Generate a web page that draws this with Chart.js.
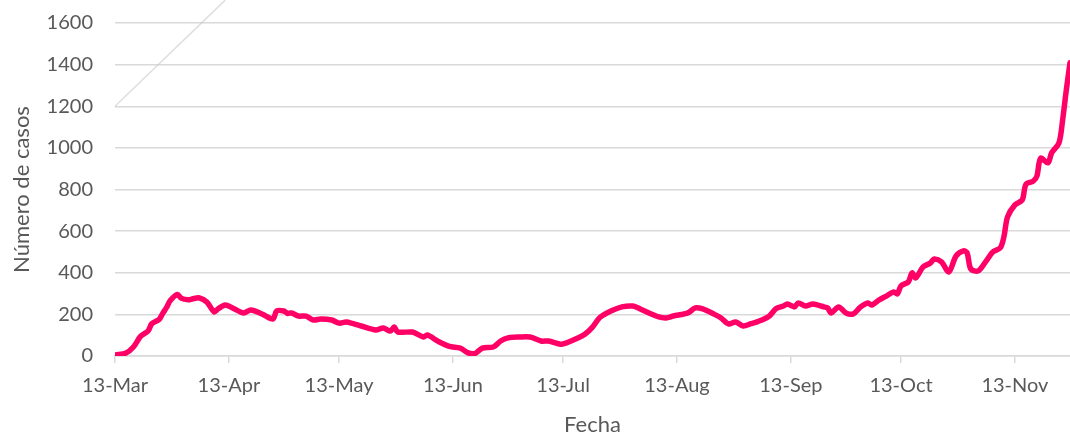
<!DOCTYPE html>
<html>
<head>
<meta charset="utf-8">
<script src="https://cdn.jsdelivr.net/npm/chart.js@4"></script>
<style>
  html, body { margin: 0; padding: 0; background: #fff; }
  #wrap { width: 1070px; height: 435px; }
</style>
</head>
<body>
<div id="wrap"><canvas id="casos"></canvas></div>
<script>
// dias desde el 13-Mar y casos diarios (media movil)
const dias = [0, 3, 5, 7, 9, 10, 12, 13, 14, 15, 17, 18, 20, 21, 23, 25, 27, 28, 30, 32,
  35, 37, 40, 43, 44, 46, 47, 48, 50, 52, 54, 56, 59, 61, 63, 67, 71, 73, 75, 76,
  77, 81, 84, 85, 88, 91, 94, 96, 98, 100, 103, 105, 107, 110, 113, 116, 118, 121, 122, 126,
  128, 130, 132, 135, 138, 141, 143, 146, 148, 150, 152, 156, 158, 160, 163, 165, 167, 169, 171, 173,
  175, 178, 180, 182, 183, 185, 186, 188, 190, 193, 194, 195, 197, 199, 201, 203, 205, 206, 208, 210,
  212, 213, 214, 216, 217, 218, 220, 222, 223, 225, 227, 229, 231, 232, 233, 235, 237, 239, 241, 242,
  243, 245, 247, 248, 250, 251, 252, 254, 255, 257, 258, 259, 260];
const casos = [5, 14, 43, 95, 120, 155, 175, 205, 232, 265, 296, 278, 270, 274, 279, 260, 212, 226, 245, 231,
  207, 221, 202, 178, 216, 216, 204, 207, 192, 192, 173, 178, 173, 158, 163, 144, 125, 135, 120, 139,
  115, 115, 91, 101, 70, 46, 38, 16, 12, 38, 43, 72, 87, 91, 91, 72, 72, 58, 58, 87,
  106, 139, 185, 216, 236, 240, 226, 202, 188, 183, 192, 207, 231, 226, 202, 183, 154, 163, 144, 154,
  165, 190, 228, 240, 250, 236, 255, 240, 250, 236, 231, 207, 236, 207, 202, 236, 255, 245, 269, 288,
  308, 298, 337, 356, 399, 375, 428, 447, 466, 452, 404, 481, 505, 495, 418, 409, 452, 500, 519, 572,
  668, 726, 750, 825, 840, 865, 950, 928, 976, 1024, 1135, 1279, 1409];

// linea gris tenue arriba a la izquierda
const trazoDias = [0, 30];
const trazoValores = [1200, 1710];

const tickDias = [0, 31, 61, 92, 122, 153, 184, 214, 245];
const tickEtiquetas = ['13-Mar', '13-Apr', '13-May', '13-Jun', '13-Jul', '13-Aug', '13-Sep', '13-Oct', '13-Nov'];
const yTicks = [0, 200, 400, 600, 800, 1000, 1200, 1400, 1600];

const gris = '#595959';
const rejilla = '#d9d9d9';

const ctx = document.getElementById('casos');
new Chart(ctx, {
  type: 'line',
  data: {
    datasets: [
      {
        data: dias.map((d, i) => ({ x: d, y: casos[i] })),
        borderColor: '#ff0066',
        borderWidth: 5.5,
        pointRadius: 0,
        tension: 0.3,
        borderCapStyle: 'round',
        borderJoinStyle: 'round',
      },
      {
        data: trazoDias.map((d, i) => ({ x: d, y: trazoValores[i] })),
        borderColor: 'rgba(195,195,195,0.55)',
        borderWidth: 1.5,
        pointRadius: 0,
        clip: false,
      },
    ],
  },
  options: {
    responsive: true,
    maintainAspectRatio: false,
    animation: false,
    layout: { padding: { top: 23, right: 0, left: 0, bottom: 0 } },
    plugins: { legend: { display: false }, tooltip: { enabled: false } },
    scales: {
      x: {
        type: 'linear',
        min: 0,
        max: 260,
        afterBuildTicks: (scale) => { scale.ticks = tickDias.map(v => ({ value: v })); },
        afterFit: (scale) => { scale.height = 79; },
        ticks: {
          autoSkip: false,
          maxRotation: 0,
          color: gris,
          font: { family: 'Lato', size: 20 },
          padding: 11,
          callback: (v) => tickEtiquetas[tickDias.indexOf(v)],
        },
        grid: { drawOnChartArea: false, drawTicks: true, tickLength: 7, color: rejilla, lineWidth: 1.5 },
        border: { display: true, color: rejilla, width: 1.5 },
        title: {
          display: true,
          text: 'Fecha',
          color: gris,
          font: { family: 'Lato', size: 22 },
          padding: { top: 0, bottom: -3 },
        },
      },
      y: {
        min: 0,
        max: 1600,
        afterBuildTicks: (scale) => { scale.ticks = yTicks.map(v => ({ value: v })); },
        afterFit: (scale) => {
          scale.width = 115;
          // sin esto el eje y reserva 34px arriba
          scale.paddingTop = 0;
          scale.paddingBottom = 0;
        },
        ticks: {
          color: gris,
          font: { family: 'Lato', size: 20 },
          padding: 22,
          callback: (v) => String(v),
        },
        grid: { drawTicks: false, color: rejilla, lineWidth: 1.5 },
        border: { display: false },
        title: {
          display: true,
          text: 'Número de casos',
          color: gris,
          font: { family: 'Lato', size: 22 },
          padding: { top: 9, bottom: 0 },
        },
      },
    },
  },
});
</script>
</body>
</html>
